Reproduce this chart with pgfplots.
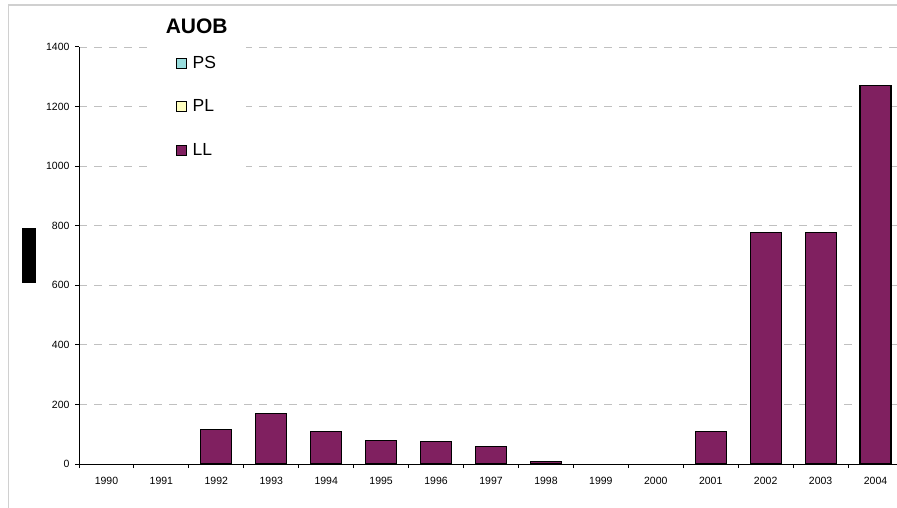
\documentclass[border=0pt]{standalone}
\usepackage{pgfplots}
\pgfplotsset{compat=1.18}
\usepackage{fontspec}
\setmainfont{Liberation Sans}
\definecolor{barc}{HTML}{802060}
\definecolor{psc}{HTML}{99DDDD}
\definecolor{plc}{HTML}{FFFFC0}
\definecolor{gridc}{HTML}{C0C0C0}
\definecolor{framec}{HTML}{D0D0D0}
\begin{document}
\begin{tikzpicture}[x=1pt,y=1pt]
\path[use as bounding box] (0,0) rectangle (897,507);
\clip (0,0) rectangle (897,507);
\draw[color=framec, line width=1.2pt] (8.5,-20) -- (8.5,502) -- (920,502);
\begin{axis}[
  at={(79pt,43pt)}, anchor=south west,
  scale only axis, width=824pt, height=417pt,
  xmin=-0.5, xmax=14.5, ymin=0, ymax=1400,
  axis x line*=bottom, axis y line*=left,
  axis line style={black, line width=1pt, -},
  tick align=outside,
  tick style={black, line width=1pt},
  major tick length=4pt, minor tick length=4pt,
  ytick={0,200,...,1400},
  ymajorgrids,
  grid style={gridc, line width=0.8pt, dash pattern=on 8pt off 7pt},
  xtick={0,...,14},
  xticklabels={1990,1991,1992,1993,1994,1995,1996,1997,1998,1999,2000,2001,2002,2003,2004},
  major x tick style={draw=none},
  minor xtick={-0.5,0.5,...,14.5},
  ticklabel style={font=\fontsize{10.5}{12}\selectfont},
  /pgf/number format/assume math mode=true,
  /pgf/number format/1000 sep={},
  yticklabel style={xshift=-2pt},
  xticklabel style={yshift=-6pt},
  ylabel={\rule{14pt}{55pt}},
  ylabel style={rotate=-90, at={(axis description cs:-0.0607,0.5)}, anchor=center, inner sep=0pt},
  legend style={at={(axis description cs:0.0837,1.0168)}, anchor=north west,
    fill=white, draw=none, font=\fontsize{17.5}{20}\selectfont,
    inner xsep=27.5pt, inner ysep=14pt, row sep=26pt, legend cell align=left,
    /tikz/every odd column/.append style={column sep=4pt}},
  legend image code/.code={\draw[#1] (0pt,-5pt) rectangle (10pt,5pt);},
]
\addlegendimage{fill=psc, draw=black, line width=1pt}
\addlegendentry{PS}
\addlegendimage{fill=plc, draw=black, line width=1pt}
\addlegendentry{PL}
\addlegendimage{fill=barc, draw=black, line width=1pt}
\addlegendentry{LL}
% 1990, 1991, 1999 and 2000 are 0 (no visible bar)
\addplot[ybar, bar width=31pt, fill=barc, draw=black, line width=1.1pt, forget plot] coordinates {
  (2,116) (3,171) (4,110) (5,80) (6,75) (7,59) (8,9)
  (11,110) (12,776) (13,776) (14,1272)
};
\end{axis}
\node[font=\bfseries\fontsize{21}{24}\selectfont] at (196.7,480.8) {AUOB};
\end{tikzpicture}
\end{document}
